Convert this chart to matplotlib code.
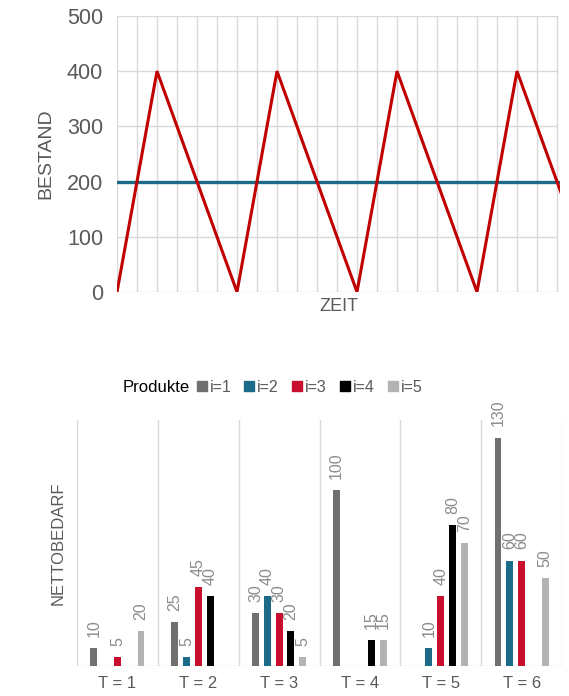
import matplotlib
matplotlib.use("Agg")
import matplotlib.pyplot as plt
from matplotlib.lines import Line2D
import numpy as np

plt.rcParams['font.family'] = ['Liberation Sans', 'DejaVu Sans']

# ---- Data: top chart (inventory over time) ----
zeit = [0, 2, 6, 8, 12, 14, 18, 20, 24]
bestand = [0, 400, 0, 400, 0, 400, 0, 400, 0]
mittel_bestand = 200
y_ticks_top = [0, 100, 200, 300, 400, 500]

# ---- Data: bottom chart (net demand) ----
perioden = ["T = 1", "T = 2", "T = 3", "T = 4", "T = 5", "T = 6"]
produkte = ["i=1", "i=2", "i=3", "i=4", "i=5"]
i1 = [10, 25, 30, 100, 0, 130]
i2 = [0, 5, 40, 0, 10, 60]
i3 = [5, 45, 30, 0, 40, 60]
i4 = [0, 40, 20, 15, 80, 0]
i5 = [20, 0, 5, 15, 70, 50]
serien = [i1, i2, i3, i4, i5]
farben = ["#707070", "#1B6A87", "#C8102E", "#000000", "#B3B3B3"]

W, H = 569, 696
fig = plt.figure(figsize=(W / 100, H / 100), dpi=100)

grid_c = "#D9D9D9"
tick_c = "#595959"

# ---------------- Top chart ----------------
l, r, t, b = 117, 560, 16, 292
ax1 = fig.add_axes([l / W, 1 - b / H, (r - l) / W, (b - t) / H])
for s in ax1.spines.values():
    s.set_visible(False)
ax1.set_xlim(0, 22.15)
ax1.set_ylim(0, 500)
for x in range(0, 23):
    ax1.axvline(x, color=grid_c, lw=1.0, zorder=0)
for y in y_ticks_top:
    ax1.axhline(y, xmax=22 / 22.15, color=grid_c, lw=1.0, zorder=0)
ax1.plot(zeit, bestand, color="#C00000", lw=2.2, zorder=3, solid_joinstyle='miter')
ax1.plot([0, 22.15], [mittel_bestand, mittel_bestand], color="#1B6A87", lw=2.4, zorder=2)
ax1.set_xticks([])
ax1.set_yticks(y_ticks_top)
ax1.tick_params(axis='y', length=0, pad=10, labelsize=15.5, labelcolor=tick_c)
ax1.set_ylabel("BESTAND", fontsize=14, color=tick_c, labelpad=9)
ax1.set_xlabel("ZEIT", fontsize=13, color=tick_c, labelpad=4)

# ---------------- Bottom chart ----------------
l2, r2, t2, b2 = 77, 562, 420, 666
ax2 = fig.add_axes([l2 / W, 1 - b2 / H, (r2 - l2) / W, (b2 - t2) / H])
for s in ax2.spines.values():
    s.set_visible(False)
ax2.set_xlim(0, 6)
ax2.set_ylim(0, 140)
for x in range(0, 7):
    ax2.axvline(x, color=grid_c, lw=1.0, zorder=0)
ax2.axhline(0, color=grid_c, lw=1.0, zorder=0)

centers = np.arange(len(perioden)) + 0.5
step = 0.146
bw = 0.086
for k, (vals, c) in enumerate(zip(serien, farben)):
    xs = centers + (k - 2) * step
    ax2.bar(xs, vals, width=bw, color=c, zorder=3)
    for xv, v in zip(xs, vals):
        if v > 0:
            ax2.annotate(str(v), (xv, v), xytext=(0, 8), textcoords='offset points',
                         rotation=90, ha='center', va='bottom', fontsize=11.5,
                         color="#8C8C8C", zorder=4, annotation_clip=False)

ax2.set_xticks(centers)
ax2.set_xticklabels(perioden)
ax2.set_yticks([])
ax2.tick_params(axis='x', length=0, pad=7, labelsize=12, labelcolor=tick_c)
ax2.set_ylabel("NETTOBEDARF", fontsize=12, color=tick_c, labelpad=8)

# Legend
fig.text(123 / W, 1 - 387 / H, "Produkte", fontsize=12, color="#000000",
         ha='left', va='center')
handles = [Line2D([], [], marker='s', linestyle='none', markersize=6.5,
                  markerfacecolor=c, markeredgecolor=c) for c in farben]
fig.legend(handles, produkte, loc='center left', bbox_to_anchor=(196 / W, 1 - 387 / H),
           ncol=5, frameon=False, handlelength=0.7, handletextpad=0.15,
           columnspacing=0.78, fontsize=11.5, labelcolor=tick_c,
           borderaxespad=0, borderpad=0)

fig.savefig("out.png", dpi=100)
